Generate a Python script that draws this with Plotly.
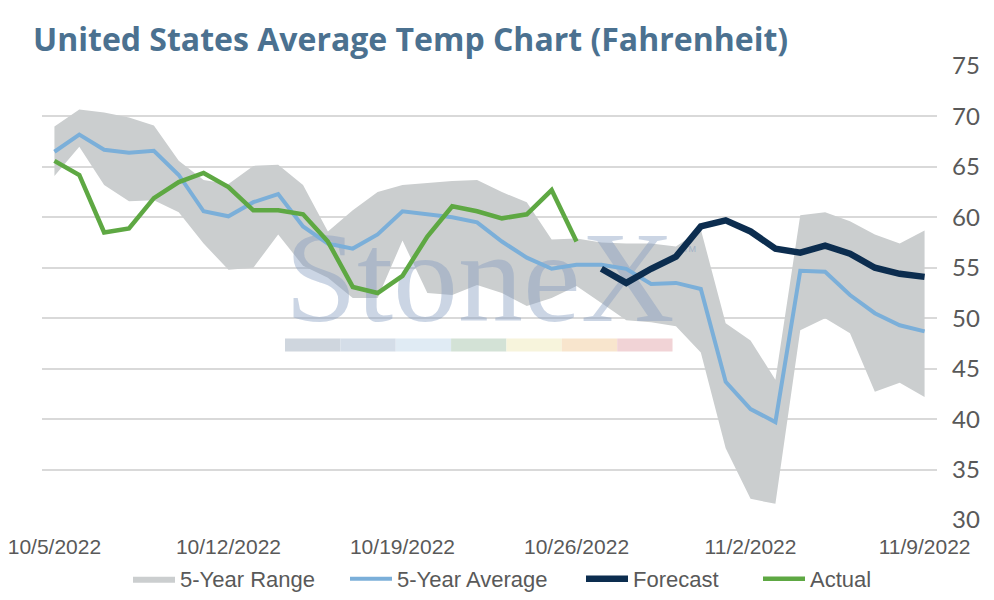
import pandas as pd
import plotly.graph_objects as go

# daily dates 10/5/2022 - 11/9/2022
dates = pd.date_range("2022-10-05", "2022-11-09", freq="D")

range_low = [64.1, 67.0, 63.2, 61.6, 61.7, 60.5, 57.4, 54.8, 55.0, 58.3,
             55.2, 54.0, 52.0, 52.0, 57.7, 52.5, 52.3, 53.3, 52.5, 51.2,
             52.0, 53.2, 51.5, 49.8, 49.6, 49.2, 46.6, 37.1, 32.1, 31.6,
             48.8, 50.0, 48.5, 42.7, 43.6, 42.2]
range_high = [69.0, 70.7, 70.4, 69.9, 69.1, 65.6, 63.7, 63.3, 65.1, 65.2,
              63.2, 58.6, 60.7, 62.5, 63.2, 63.4, 63.6, 63.7, 62.5, 61.5,
              57.8, 57.9, 57.5, 57.4, 57.4, 57.1, 58.8, 49.5, 47.8, 43.9,
              60.2, 60.5, 59.6, 58.3, 57.4, 58.7]
avg_5yr = [66.5, 68.2, 66.7, 66.4, 66.6, 64.2, 60.6, 60.1, 61.5, 62.3,
           59.1, 57.4, 56.9, 58.3, 60.6, 60.3, 60.0, 59.5, 57.6, 56.0,
           54.9, 55.3, 55.3, 54.9, 53.4, 53.5, 52.9, 43.7, 41.0, 39.7,
           54.7, 54.6, 52.3, 50.5, 49.3, 48.7]
actual = [65.6, 64.2, 58.5, 58.9, 61.9, 63.5, 64.4, 63.0, 60.7, 60.7,
          60.3, 57.6, 53.1, 52.5, 54.2, 58.1, 61.1, 60.6, 59.9, 60.3,
          62.7, 57.6]
forecast = [54.9, 53.5, 54.9, 56.1, 59.1, 59.7, 58.6, 56.9, 56.5, 57.2,
            56.4, 55.0, 54.4, 54.1]

tick_dates = ["2022-10-05", "2022-10-12", "2022-10-19", "2022-10-26", "2022-11-02", "2022-11-09"]
tick_text = ["10/5/2022", "10/12/2022", "10/19/2022", "10/26/2022", "11/2/2022", "11/9/2022"]
y_ticks = [30, 35, 40, 45, 50, 55, 60, 65, 70, 75]

# watermark colour strip
strip_colors = ["#cfd6de", "#d4dde8", "#e0ebf4", "#d3e2d6", "#f7f4dc", "#f8e5cd", "#f1d3d6"]

fig = go.Figure()

fig.add_trace(go.Scatter(x=dates, y=range_low, mode="lines", line=dict(width=0),
                         showlegend=False, hoverinfo="skip"))
fig.add_trace(go.Scatter(x=dates, y=range_high, mode="lines", line=dict(width=0),
                         fill="tonexty", fillcolor="#cbcecf", name="5-Year Range", legend="legend"))

# StoneX watermark (behind the lines)
fig.add_trace(go.Scatter(x=["2022-10-22 02:30"], y=[52.9], mode="text", text=["StoneX"],
                         textfont=dict(family="Liberation Serif", size=130, color="rgba(130,155,190,0.42)"),
                         showlegend=False, hoverinfo="skip"))
fig.add_trace(go.Scatter(x=["2022-10-30 13:00"], y=[56.8], mode="text", text=["TM"],
                         textfont=dict(family="Liberation Sans", size=9, color="rgba(130,155,190,0.6)"),
                         showlegend=False, hoverinfo="skip"))

fig.add_trace(go.Scatter(x=dates, y=avg_5yr, mode="lines", name="5-Year Average", legend="legend2",
                         line=dict(color="#7bafd9", width=4)))
fig.add_trace(go.Scatter(x=dates[len(actual):], y=forecast, mode="lines", name="Forecast", legend="legend3",
                         line=dict(color="#0c2d4f", width=6.5)))
fig.add_trace(go.Scatter(x=dates[:len(actual)], y=actual, mode="lines", name="Actual", legend="legend4",
                         line=dict(color="#5ea843", width=4.5)))

seg = (0.7045 - 0.2715) / len(strip_colors)
for k, c in enumerate(strip_colors):
    fig.add_shape(type="rect", xref="paper", yref="paper",
                  x0=0.2715 + k * seg, x1=0.2715 + (k + 1) * seg, y0=0.371, y1=0.400,
                  fillcolor=c, line=dict(width=0), layer="between")


def legend_at(px):
    return dict(orientation="h", x=px / 986, xanchor="left", xref="container",
                y=1 - 571 / 592, yanchor="middle", yref="container", itemwidth=42,
                font=dict(family="Liberation Sans", size=22, color="#595959"),
                bgcolor="rgba(0,0,0,0)")


# page body adds an 8px offset, so the figure is 8px smaller
fig.update_layout(
    width=986, height=592,
    margin=dict(l=34, r=57, t=58, b=80, autoexpand=False),
    paper_bgcolor="white", plot_bgcolor="white",
    title=dict(text="<b>United States Average Temp Chart (Fahrenheit)</b>",
               x=25 / 986, xref="container", xanchor="left",
               y=1 - 32 / 592, yref="container", yanchor="middle", pad=dict(l=0, r=0, t=0, b=0),
               font=dict(family="Open Sans", size=32, color="#4b7190")),
    xaxis=dict(type="date", range=["2022-10-04 12:00", "2022-11-09 12:00"],
               tickvals=tick_dates, ticktext=tick_text, showgrid=False, zeroline=False,
               showline=False, ticks="", ticklabelstandoff=12, automargin=False,
               ticklabeloverflow="allow",
               tickfont=dict(family="Liberation Sans", size=21, color="#595959")),
    yaxis=dict(side="right", range=[30, 75], tickvals=y_ticks, showgrid=True,
               gridcolor="#d9d9d9", gridwidth=1.5, zeroline=False, showline=False,
               ticks="", ticklabelstandoff=14, automargin=False,
               tickfont=dict(family="Lato", size=24, color="#595959")),
    legend=legend_at(120),
    legend2=legend_at(337),
    legend3=legend_at(573),
    legend4=legend_at(750),
    showlegend=True,
)

fig.write_html("out.html")
